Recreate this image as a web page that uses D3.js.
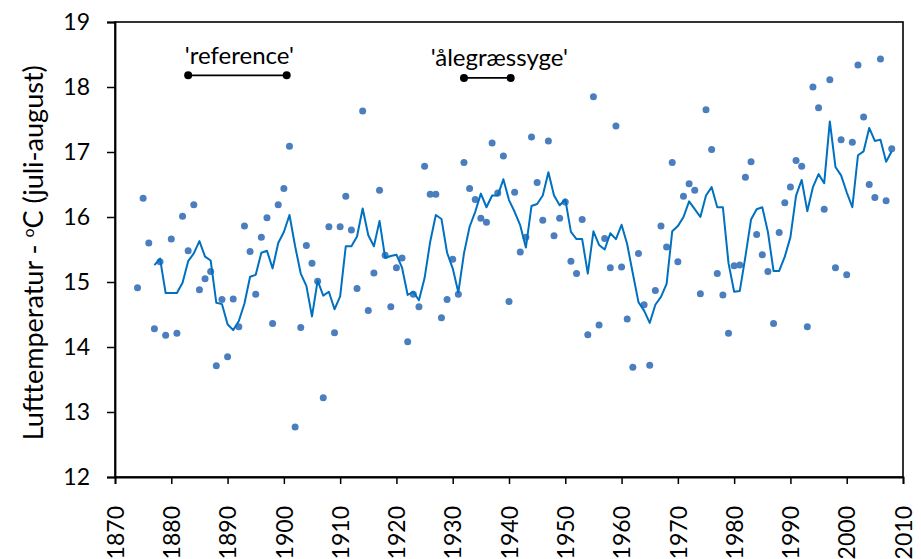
<!DOCTYPE html>
<html>
<head>
<meta charset="utf-8">
<script src="https://cdn.jsdelivr.net/npm/d3@7"></script>
<style>
  body { margin: 0; background: #fff; }
  svg { display: block; font-family: Lato, "Open Sans", sans-serif; }
</style>
</head>
<body>
<div id="chart"></div>
<script>
// yearly July-August air temperature (dots)
var dotYears = [
  1874, 1875, 1876, 1877, 1878, 1879,
  1880, 1881, 1882, 1883, 1884, 1885, 1886, 1887, 1888, 1889,
  1890, 1891, 1892, 1893, 1894, 1895, 1896, 1897, 1898, 1899,
  1900, 1901, 1902, 1903, 1904, 1905, 1906, 1907, 1908, 1909,
  1910, 1911, 1912, 1913, 1914, 1915, 1916, 1917, 1918, 1919,
  1920, 1921, 1922, 1923, 1924, 1925, 1926, 1927, 1928, 1929,
  1930, 1931, 1932, 1933, 1934, 1935, 1936, 1937, 1938, 1939,
  1940, 1941, 1942, 1943, 1944, 1945, 1946, 1947, 1948, 1949,
  1950, 1951, 1952, 1953, 1954, 1955, 1956, 1957, 1958, 1959,
  1960, 1961, 1962, 1963, 1964, 1965, 1966, 1967, 1968, 1969,
  1970, 1971, 1972, 1973, 1974, 1975, 1976, 1977, 1978, 1979,
  1980, 1981, 1982, 1983, 1984, 1985, 1986, 1987, 1988, 1989,
  1990, 1991, 1992, 1993, 1994, 1995, 1996, 1997, 1998, 1999,
  2000, 2001, 2002, 2003, 2004, 2005, 2006, 2007, 2008
];
var dotTemps = [
  14.91, 16.29, 15.60, 14.28, 15.31, 14.18,
  15.66, 14.21, 16.01, 15.48, 16.19, 14.88, 15.05, 15.16, 13.71, 14.73,
  13.85, 14.74, 14.31, 15.86, 15.47, 14.81, 15.69, 15.99, 14.36, 16.19,
  16.44, 17.09, 12.77, 14.30, 15.56, 15.29, 15.01, 13.22, 15.85, 14.22,
  15.85, 16.32, 15.80, 14.90, 17.63, 14.56, 15.14, 16.41, 15.41, 14.62,
  15.22, 15.37, 14.08, 14.81, 14.62, 16.78, 16.35, 16.35, 14.45, 14.73,
  15.35, 14.81, 16.84, 16.44, 16.27, 15.98, 15.92, 17.14, 16.37, 16.94,
  14.70, 16.38, 15.46, 15.69, 17.23, 16.53, 15.95, 17.17, 15.71, 15.98,
  16.23, 15.32, 15.13, 15.96, 14.19, 17.85, 14.34, 15.67, 15.22, 17.40,
  15.23, 14.43, 13.69, 15.44, 14.65, 13.72, 14.87, 15.86, 15.54, 16.84,
  15.31, 16.32, 16.51, 16.41, 14.82, 17.65, 17.04, 15.13, 14.80, 14.21,
  15.25, 15.26, 16.61, 16.85, 15.73, 15.42, 15.16, 14.36, 15.76, 16.22,
  16.46, 16.87, 16.78, 14.31, 18.00, 17.68, 16.12, 18.11, 15.22, 17.19,
  15.11, 17.15, 18.34, 17.54, 16.50, 16.30, 18.43, 16.25, 17.05
];

// running mean (line)
var meanYears = [
  1877, 1878, 1879,
  1880, 1881, 1882, 1883, 1884, 1885, 1886, 1887, 1888, 1889,
  1890, 1891, 1892, 1893, 1894, 1895, 1896, 1897, 1898, 1899,
  1900, 1901, 1902, 1903, 1904, 1905, 1906, 1907, 1908, 1909,
  1910, 1911, 1912, 1913, 1914, 1915, 1916, 1917, 1918, 1919,
  1920, 1921, 1922, 1923, 1924, 1925, 1926, 1927, 1928, 1929,
  1930, 1931, 1932, 1933, 1934, 1935, 1936, 1937, 1938, 1939,
  1940, 1941, 1942, 1943, 1944, 1945, 1946, 1947, 1948, 1949,
  1950, 1951, 1952, 1953, 1954, 1955, 1956, 1957, 1958, 1959,
  1960, 1961, 1962, 1963, 1964, 1965, 1966, 1967, 1968, 1969,
  1970, 1971, 1972, 1973, 1974, 1975, 1976, 1977, 1978, 1979,
  1980, 1981, 1982, 1983, 1984, 1985, 1986, 1987, 1988, 1989,
  1990, 1991, 1992, 1993, 1994, 1995, 1996, 1997, 1998, 1999,
  2000, 2001, 2002, 2003, 2004, 2005, 2006, 2007, 2008
];
var meanTemps = [
  15.26, 15.36, 14.83,
  14.83, 14.83, 14.99, 15.32, 15.44, 15.63, 15.39, 15.33, 14.68, 14.66,
  14.35, 14.26, 14.40, 14.67, 15.08, 15.11, 15.45, 15.48, 15.21, 15.60,
  15.77, 16.03, 15.55, 15.13, 14.94, 14.47, 15.02, 14.79, 14.85, 14.58,
  14.78, 15.55, 15.55, 15.70, 16.13, 15.72, 15.55, 15.94, 15.37, 15.40,
  15.42, 15.22, 14.80, 14.85, 14.72, 15.06, 15.62, 16.03, 15.97, 15.45,
  15.21, 14.84, 15.44, 15.85, 16.08, 16.36, 16.15, 16.33, 16.33, 16.58,
  16.26, 16.08, 15.87, 15.53, 16.17, 16.20, 16.33, 16.69, 16.33, 16.18,
  16.27, 15.77, 15.66, 15.66, 15.13, 15.78, 15.57, 15.50, 15.75, 15.66,
  15.88, 15.58, 15.13, 14.69, 14.56, 14.37, 14.65, 14.77, 14.97, 15.78,
  15.86, 16.00, 16.24, 16.12, 16.00, 16.33, 16.46, 16.15, 16.15, 15.29,
  14.85, 14.86, 15.39, 15.96, 16.12, 16.15, 15.77, 15.17, 15.17, 15.39,
  15.69, 16.33, 16.57, 16.09, 16.46, 16.66, 16.52, 17.47, 16.77, 16.64,
  16.38, 16.15, 16.95, 17.01, 17.37, 17.17, 17.19, 16.85, 17.01
];

// period markers
var periodLabels = ["'reference'", "'ålegræssyge'"];
var periodStart = [1883, 1932];
var periodEnd = [1900.5, 1940.3];
var periodLevel = [18.18, 18.14];

var xTicks = [1870, 1880, 1890, 1900, 1910, 1920, 1930, 1940, 1950, 1960, 1970, 1980, 1990, 2000, 2010];
var yTicks = [12, 13, 14, 15, 16, 17, 18, 19];
var yTitle = "Lufttemperatur - ";

var width = 921;
var height = 559;
var margin = {top: 22, right: 18, bottom: 82, left: 115};
var labelShift = [2, 12];

var svg = d3.select("#chart")
  .append("svg")
    .attr("width", width)
    .attr("height", height);

var x = d3.scaleLinear()
  .domain([1870, 2010])
  .range([margin.left, width - margin.right]);

var y = d3.scaleLinear()
  .domain([12, 19])
  .range([height - margin.bottom, margin.top]);

// plot frame
svg.append("rect")
  .attr("x", x(1870))
  .attr("y", y(19))
  .attr("width", x(2010) - x(1870))
  .attr("height", y(12) - y(19))
  .attr("fill", "none")
  .attr("stroke", "#000")
  .attr("stroke-width", 1.6);

var yAxis = svg.append("g")
  .attr("transform", "translate(" + x(1870) + ",0)")
  .call(d3.axisLeft(y).tickValues(yTicks).tickSize(8).tickPadding(17).tickFormat(d3.format("d")));

var xAxis = svg.append("g")
  .attr("transform", "translate(0," + y(12) + ")")
  .call(d3.axisBottom(x).tickValues(xTicks).tickSize(7).tickFormat(d3.format("d")));

[yAxis, xAxis].forEach(function(g) {
  g.select(".domain").attr("stroke", "#000").attr("stroke-width", 1.8);
  g.selectAll(".tick line").attr("stroke", "#000").attr("stroke-width", 1.5);
  g.selectAll("text").attr("fill", "#000").style("font-size", "23px").style("font-family", "Lato");
});

xAxis.selectAll(".tick text")
  .attr("transform", "translate(0,29) rotate(-90)")
  .attr("text-anchor", "end")
  .attr("x", 0)
  .attr("y", 0)
  .attr("dy", "0.36em");

// y title
var title = svg.append("text")
  .attr("transform", "translate(43," + y(15.45) + ") rotate(-90)")
  .attr("text-anchor", "middle")
  .style("font-size", "27px")
  .attr("fill", "#000");
title.append("tspan").text(yTitle);
title.append("tspan").attr("dy", -9).style("font-size", "16px").text("o");
title.append("tspan").attr("dy", 9).text("C (juli-august)");

// yearly dots
svg.append("g")
  .selectAll("circle")
  .data(dotYears)
  .enter()
  .append("circle")
    .attr("cx", function(d) { return x(d); })
    .attr("cy", function(d, i) { return y(dotTemps[i]); })
    .attr("r", 3.5)
    .attr("fill", "#4A7EBF");

// running mean
var line = d3.line()
  .x(function(d) { return x(d); })
  .y(function(d, i) { return y(meanTemps[i]); });

svg.append("path")
  .datum(meanYears)
  .attr("d", line)
  .attr("fill", "none")
  .attr("stroke", "#0070C0")
  .attr("stroke-width", 2)
  .attr("stroke-linejoin", "round");

// period markers
periodLabels.forEach(function(lab, i) {
  var g = svg.append("g");
  g.append("line")
    .attr("x1", x(periodStart[i]))
    .attr("x2", x(periodEnd[i]))
    .attr("y1", y(periodLevel[i]))
    .attr("y2", y(periodLevel[i]))
    .attr("stroke", "#000")
    .attr("stroke-width", 1.8);
  g.selectAll("circle")
    .data([periodStart[i], periodEnd[i]])
    .enter()
    .append("circle")
      .attr("cx", function(d) { return x(d); })
      .attr("cy", y(periodLevel[i]))
      .attr("r", 4)
      .attr("fill", "#000");
  g.append("text")
    .attr("x", (x(periodStart[i]) + x(periodEnd[i])) / 2 + labelShift[i])
    .attr("y", y(periodLevel[i]) - 11.5)
    .attr("text-anchor", "middle")
    .style("font-size", "24px")
    .attr("fill", "#000")
    .text(lab);
});
</script>
</body>
</html>
